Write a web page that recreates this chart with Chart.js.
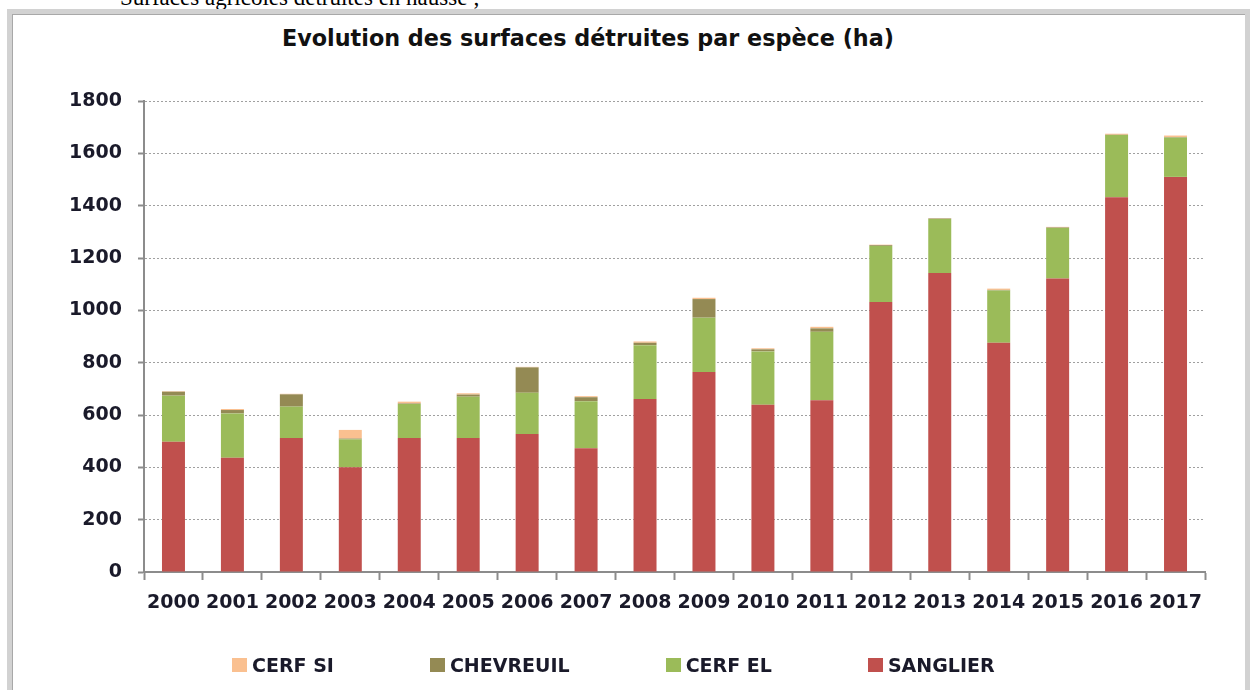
<!DOCTYPE html>
<html>
<head>
<meta charset="utf-8">
<script src="https://cdn.jsdelivr.net/npm/chart.js@4"></script>
<style>
  html, body { margin: 0; padding: 0; background: #fff; }
  body { width: 1250px; height: 690px; position: relative; overflow: hidden; }
  .above {
    position: absolute; left: 120px; top: -15px;
    font-family: "Liberation Serif", serif; font-size: 23px; color: #000;
    white-space: nowrap;
  }
  .frame {
    position: absolute; left: 7px; top: 9px; width: 1233px; height: 700px;
    border: 5px solid #d2d2d2; box-shadow: inset 1px 1px 0 #a8a8a8;
  }
  .title {
    position: absolute; left: 0; width: 1176px; top: 25px; text-align: center;
    font-family: "DejaVu Sans", sans-serif; font-weight: bold; font-size: 22.3px; color: #111;
  }
  #chart { position: absolute; left: 0; top: 0; }
  .legend {
    position: absolute; left: 232px; top: 654px; display: flex; gap: 96px;
    font-family: "DejaVu Sans", sans-serif; font-weight: bold; font-size: 19px; color: #1a1a2a;
  }
  .legend span { display: flex; align-items: center; white-space: nowrap; }
  .legend i { display: inline-block; width: 15px; height: 14px; margin-right: 5px; }
</style>
</head>
<body>
<div class="above">Surfaces agricoles détruites en hausse ;</div>
<div class="frame"></div>
<div class="title">Evolution des surfaces détruites par espèce (ha)</div>
<canvas id="chart" width="1250" height="690"></canvas>
<div class="legend" id="legend"></div>
<script>
const years = ['2000','2001','2002','2003','2004','2005','2006','2007','2008','2009','2010','2011','2012','2013','2014','2015','2016','2017']
const sanglier = [498, 437, 512, 400, 512, 512, 527, 473, 661, 764, 639, 656, 1032, 1143, 876, 1122, 1432, 1510]
const cerfEl = [176, 169, 120, 107, 130, 158, 158, 180, 206, 208, 204, 262, 214, 206, 200, 193, 238, 150]
const chevreuil = [15, 13, 47, 3, 2, 8, 97, 15, 9, 71, 8, 13, 3, 2, 2, 2, 1, 2]
const cerfSi = [2, 4, 2, 33, 7, 5, 2, 4, 5, 5, 4, 6, 2, 1, 5, 2, 4, 6]

// stacked bottom to top
const series = [
  { label: 'SANGLIER', data: sanglier, color: '#c0504d' },
  { label: 'CERF EL', data: cerfEl, color: '#9bbb59' },
  { label: 'CHEVREUIL', data: chevreuil, color: '#948a54' },
  { label: 'CERF SI', data: cerfSi, color: '#fac090' },
]

const tickFont = { family: 'DejaVu Sans', weight: 'bold', size: 19 }

new Chart(document.getElementById('chart'), {
  type: 'bar',
  data: {
    labels: years,
    datasets: series.map(s => ({
      label: s.label,
      data: s.data,
      backgroundColor: s.color,
      borderWidth: 0,
      barPercentage: 0.39,
      categoryPercentage: 1
    }))
  },
  options: {
    responsive: false,
    animation: false,
    layout: { padding: { left: 0, right: 45, top: 101, bottom: 68 } },
    plugins: {
      legend: { display: false },
      title: { display: false },
      tooltip: { enabled: false }
    },
    scales: {
      x: {
        stacked: true,
        afterFit: s => { s.height = 50 },
        border: { color: '#8c8c8c', width: 2 },
        grid: { offset: true, drawOnChartArea: false, tickLength: 8, tickColor: '#8c8c8c', tickWidth: 2 },
        ticks: { font: tickFont, color: '#1a1a2a', padding: 12, maxRotation: 0, autoSkip: false }
      },
      y: {
        stacked: true,
        min: 0,
        max: 1800,
        afterFit: s => { s.width = 144 },
        border: { color: '#8c8c8c', width: 2, dash: [2, 2] },
        grid: { color: '#a0a0a0', tickLength: 6, tickColor: '#8c8c8c', tickWidth: 2, tickBorderDash: [] },
        ticks: { stepSize: 200, font: tickFont, color: '#1a1a2a', padding: 16, callback: v => String(v) }
      }
    }
  }
})

// legend in the reference's order
const legend = document.getElementById('legend')
series.slice().reverse().forEach(s => {
  const item = document.createElement('span')
  item.innerHTML = '<i style="background:' + s.color + '"></i>' + s.label
  legend.appendChild(item)
})
</script>
</body>
</html>
